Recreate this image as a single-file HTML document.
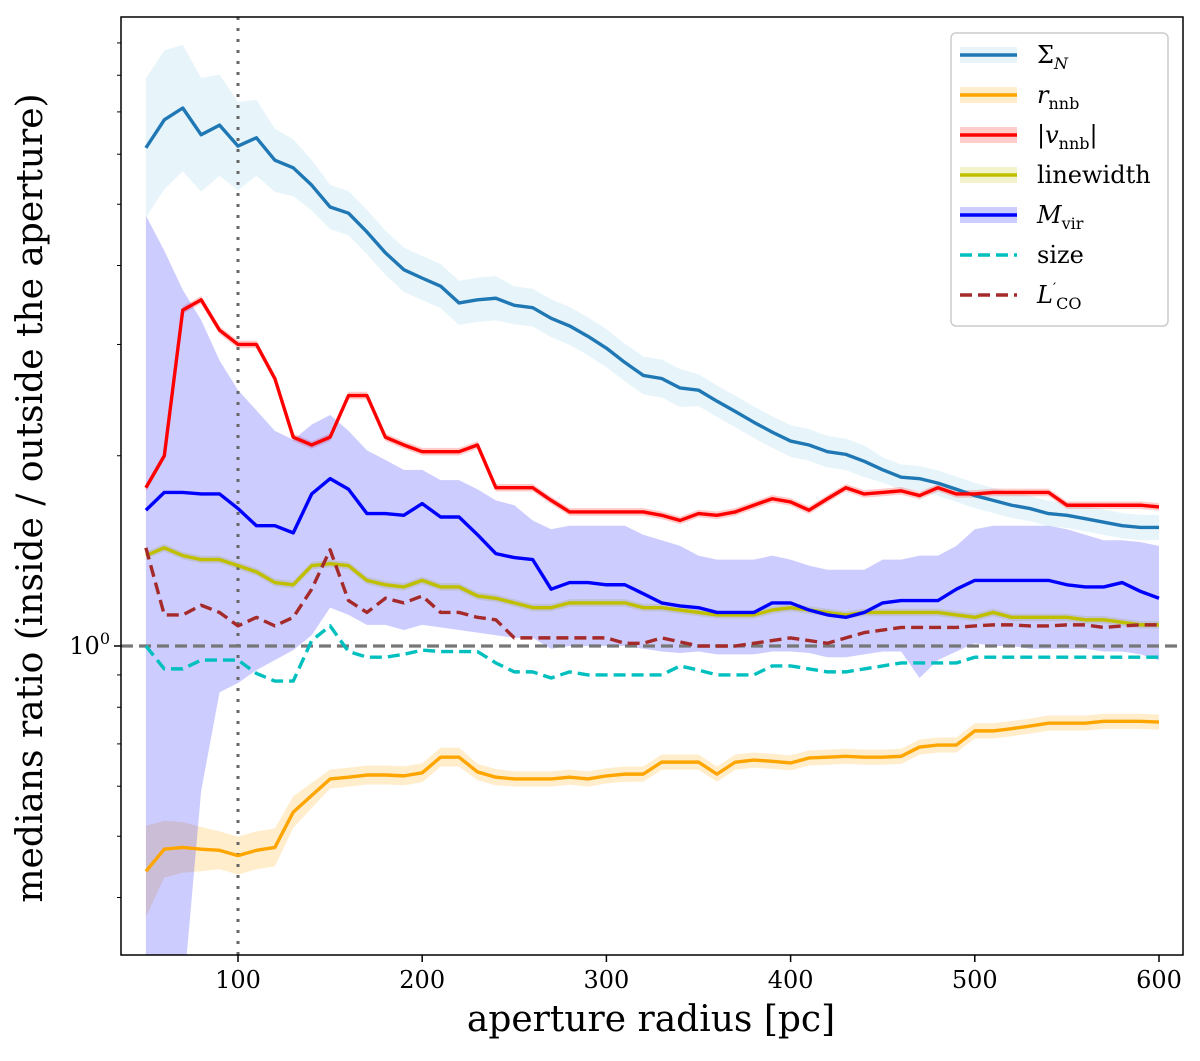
<!DOCTYPE html>
<html><head><meta charset="utf-8"><style>
html,body{margin:0;padding:0;background:#fff;}
svg text{font-family:"DejaVu Serif","Liberation Serif",serif;}
</style></head><body>
<svg id="chart" width="1200" height="1056" viewBox="0 0 1200 1056" xmlns="http://www.w3.org/2000/svg">
<g id="bands"></g>
<g id="lines"></g>
<g id="axes"></g>
<g id="legend"></g>
</svg>
<script>
const radii=[50,60,70,80,90,100,110,120,130,140,150,160,170,180,190,200,210,220,230,240,250,260,270,280,290,300,310,320,330,340,350,360,370,380,390,400,410,420,430,440,450,460,470,480,490,500,510,520,530,540,550,560,570,580,590,600];
const sigmaN=[6.14,6.80,7.10,6.44,6.67,6.18,6.37,5.87,5.71,5.36,4.95,4.84,4.52,4.19,3.94,3.82,3.71,3.49,3.53,3.55,3.46,3.43,3.30,3.21,3.09,2.96,2.81,2.68,2.65,2.56,2.54,2.44,2.35,2.26,2.18,2.11,2.08,2.03,2.01,1.96,1.90,1.85,1.84,1.81,1.77,1.73,1.70,1.67,1.65,1.62,1.61,1.59,1.57,1.55,1.54,1.54];
const sigmaNErr=[0.11,0.11,0.10,0.09,0.08,0.07,0.06,0.05,0.045,0.04,0.035,0.035,0.035,0.035,0.035,0.035,0.035,0.035,0.035,0.035,0.03,0.03,0.03,0.03,0.03,0.03,0.03,0.03,0.03,0.03,0.025,0.025,0.025,0.025,0.025,0.025,0.025,0.025,0.025,0.025,0.02,0.02,0.02,0.02,0.02,0.02,0.02,0.02,0.02,0.02,0.02,0.02,0.02,0.02,0.02,0.02];
const rnnb=[0.44,0.477,0.48,0.477,0.475,0.466,0.475,0.48,0.546,0.58,0.616,0.62,0.625,0.625,0.623,0.63,0.667,0.667,0.632,0.62,0.616,0.616,0.616,0.62,0.616,0.623,0.627,0.627,0.655,0.655,0.655,0.627,0.655,0.66,0.657,0.653,0.665,0.667,0.669,0.667,0.667,0.669,0.692,0.697,0.697,0.734,0.734,0.74,0.747,0.755,0.755,0.755,0.76,0.76,0.76,0.758];
const rnnbErr=[0.072,0.045,0.04,0.035,0.03,0.03,0.03,0.03,0.025,0.02,0.015,0.015,0.015,0.015,0.015,0.015,0.015,0.015,0.013,0.013,0.012,0.012,0.012,0.012,0.012,0.012,0.012,0.012,0.012,0.012,0.012,0.012,0.012,0.012,0.012,0.012,0.012,0.012,0.012,0.012,0.012,0.012,0.012,0.012,0.012,0.012,0.012,0.012,0.012,0.012,0.012,0.012,0.012,0.012,0.012,0.012];
const vnnb=[1.78,2.0,3.40,3.53,3.16,3.0,3.0,2.65,2.14,2.08,2.14,2.49,2.49,2.14,2.08,2.03,2.03,2.03,2.08,1.78,1.78,1.78,1.70,1.63,1.63,1.63,1.63,1.63,1.61,1.58,1.62,1.61,1.63,1.67,1.71,1.69,1.64,1.71,1.78,1.74,1.75,1.76,1.73,1.78,1.74,1.74,1.75,1.75,1.75,1.75,1.67,1.67,1.67,1.67,1.67,1.66];
const linewidth=[1.39,1.43,1.39,1.37,1.37,1.34,1.31,1.26,1.25,1.34,1.35,1.34,1.27,1.25,1.24,1.27,1.24,1.24,1.20,1.19,1.17,1.15,1.15,1.17,1.17,1.17,1.17,1.15,1.15,1.14,1.13,1.12,1.12,1.12,1.14,1.15,1.14,1.13,1.12,1.13,1.13,1.13,1.13,1.13,1.12,1.11,1.13,1.11,1.11,1.11,1.11,1.10,1.10,1.09,1.08,1.08];
const mvir=[1.64,1.75,1.75,1.74,1.74,1.65,1.55,1.55,1.51,1.74,1.84,1.77,1.62,1.62,1.61,1.68,1.60,1.60,1.50,1.40,1.38,1.37,1.23,1.26,1.26,1.25,1.25,1.21,1.17,1.157,1.15,1.13,1.13,1.13,1.17,1.17,1.14,1.12,1.11,1.13,1.17,1.18,1.18,1.18,1.23,1.27,1.27,1.27,1.27,1.27,1.25,1.24,1.24,1.26,1.22,1.19];
const mvirUpper=[4.80,4.22,3.66,3.28,2.83,2.54,2.36,2.19,2.12,2.24,2.32,2.19,2.04,1.97,1.90,1.90,1.83,1.83,1.77,1.70,1.67,1.58,1.53,1.55,1.55,1.55,1.55,1.50,1.47,1.44,1.39,1.37,1.37,1.37,1.39,1.37,1.34,1.32,1.32,1.32,1.37,1.37,1.39,1.39,1.44,1.53,1.55,1.55,1.55,1.55,1.53,1.50,1.47,1.47,1.46,1.44];
const mvirLower=[0.275,0.275,0.275,0.59,0.845,0.874,0.916,0.95,0.985,1.04,1.15,1.12,1.08,1.08,1.06,1.08,1.07,1.06,1.05,1.04,1.03,1.03,0.99,1.0,1.0,1.0,1.0,0.99,0.98,0.975,0.98,0.97,0.97,0.97,0.98,0.98,0.975,0.96,0.96,0.97,0.98,0.98,0.89,0.95,0.98,1.01,1.0,1.0,0.99,0.99,0.99,0.99,0.98,0.98,0.97,0.95];
const size=[1.0,0.92,0.92,0.95,0.95,0.95,0.905,0.88,0.88,1.02,1.076,0.98,0.96,0.96,0.97,0.985,0.98,0.98,0.98,0.94,0.91,0.91,0.89,0.91,0.90,0.90,0.90,0.90,0.90,0.93,0.916,0.90,0.90,0.90,0.93,0.93,0.92,0.91,0.91,0.92,0.93,0.94,0.94,0.94,0.94,0.96,0.96,0.96,0.96,0.96,0.96,0.96,0.96,0.96,0.96,0.96];
const lco=[1.43,1.12,1.12,1.16,1.13,1.076,1.11,1.076,1.11,1.23,1.42,1.18,1.13,1.19,1.17,1.20,1.13,1.13,1.11,1.10,1.03,1.03,1.03,1.03,1.03,1.03,1.01,1.01,1.03,1.015,1.0,1.0,1.0,1.01,1.02,1.03,1.02,1.01,1.03,1.05,1.06,1.07,1.07,1.07,1.07,1.076,1.08,1.08,1.076,1.076,1.08,1.08,1.07,1.076,1.08,1.08];
const smallErr=0.006;
const xTicks=[100,200,300,400,500,600];
const yMinorTicks=[0.4,0.5,0.6,0.7,0.8,0.9,2,3,4,5,6,7,8,9];
const legendLabels=["ΣN","rnnb","|vnnb|","linewidth","Mvir","size","L'CO"];

const NS="http://www.w3.org/2000/svg";
const L=121,R=1183,T=17,B=955;
function X(r){return 238+(r-100)*1.842;}
function Y(v){return 646-Math.log10(v)*632;}
function mk(tag,attrs,parent){const e=document.createElementNS(NS,tag);for(const k in attrs)e.setAttribute(k,attrs[k]);parent.appendChild(e);return e;}
const bands=document.getElementById('bands'),lines=document.getElementById('lines'),axes=document.getElementById('axes'),legend=document.getElementById('legend');
const clip=mk('clipPath',{id:'pc'},document.getElementById('chart'));mk('rect',{x:L,y:T,width:R-L,height:B-T},clip);
bands.setAttribute('clip-path','url(#pc)');lines.setAttribute('clip-path','url(#pc)');
function band(up,lo,fill,op,name){
  let d='';radii.forEach((r,i)=>{d+=(i?'L':'M')+X(r)+','+Y(up[i]);});
  for(let i=radii.length-1;i>=0;i--)d+='L'+X(radii[i])+','+Y(lo[i]);
  const p=mk('path',{d:d+'Z',fill:fill,'fill-opacity':op,stroke:'none'},bands);
  
  
}
function line(vals,color,dash,name){
  const d=radii.map((r,i)=>(i?'L':'M')+X(r)+','+Y(vals[i])).join('');
  const p=mk('path',{d:d,fill:'none',stroke:color,'stroke-width':3.4,'stroke-dasharray':dash||'none','stroke-linejoin':'round'},lines);
  
  
}
function errBand(vals,err,fill,op,name){
  const e=i=>Array.isArray(err)?err[i]:err;
  band(vals.map((v,i)=>v*Math.pow(10,e(i))),vals.map((v,i)=>v/Math.pow(10,e(i))),fill,op,name);
}
errBand(sigmaN,sigmaNErr,'#87ceeb',0.2,'sigma-n-band');
errBand(rnnb,rnnbErr,'#ffa500',0.2,'r-nnb-band');
errBand(vnnb,smallErr,'#ff0000',0.2,'v-nnb-band');
errBand(linewidth,smallErr,'#bfbf00',0.2,'linewidth-band');
band(mvirUpper,mvirLower,'#0000ff',0.2,'m-vir-band');
let g=mk('line',{x1:X(100),x2:X(100),y1:T,y2:B,stroke:'#666','stroke-width':3,'stroke-dasharray':'3,8'},lines);

g=mk('line',{x1:L,x2:R,y1:Y(1),y2:Y(1),stroke:'#777','stroke-width':3.2,'stroke-dasharray':'12,6'},lines);

line(sigmaN,'#1f77b4',null,'sigma-n-line');
line(rnnb,'#ffa500',null,'r-nnb-line');
line(vnnb,'#ff0000',null,'v-nnb-line');
line(linewidth,'#bfbf00',null,'linewidth-line');
line(mvir,'#0000ff',null,'m-vir-line');
line(size,'#00bfbf','12,6','size-line');
line(lco,'#a52a2a','12,6','l-co-line');
g=mk('rect',{x:L,y:T,width:R-L,height:B-T,fill:'none',stroke:'#000','stroke-width':1.5},axes);

xTicks.forEach(t=>{
  const tk=mk('line',{x1:X(t),x2:X(t),y1:B,y2:B+7,stroke:'#000','stroke-width':1.5},axes);
  
  const tx=mk('text',{x:X(t),y:B+33,'font-size':24,'text-anchor':'middle'},axes);tx.textContent=t;
  
});
yMinorTicks.forEach(t=>{
  const tk=mk('line',{x1:L-4,x2:L,y1:Y(t),y2:Y(t),stroke:'#000','stroke-width':1},axes);
  
});
g=mk('line',{x1:L-7,x2:L,y1:Y(1),y2:Y(1),stroke:'#000','stroke-width':1.5},axes);

g=mk('text',{x:L-11,y:Y(1)+8,'font-size':24,'text-anchor':'end'},axes);
g.innerHTML='10<tspan dy="-10" font-size="16">0</tspan>';

g=mk('text',{x:651,y:1031,'font-size':36,'text-anchor':'middle'},axes);g.textContent='aperture radius [pc]';

g=mk('text',{x:0,y:0,'font-size':36,'text-anchor':'middle',transform:'translate(42,498) rotate(-90)'},axes);g.textContent='medians ratio (inside / outside the aperture)';

g=mk('rect',{x:951,y:33,width:217,height:293,rx:5,fill:'#fff','fill-opacity':0.85,stroke:'#ccc','stroke-width':1.5},legend);

const lgColors=['#1f77b4','#ffa500','#ff0000','#bfbf00','#0000ff','#00bfbf','#a52a2a'];
const lgFill=['#87ceeb','#ffa500','#ff0000','#bfbf00','#0000ff',null,null];
const lgHTML=['Σ<tspan font-style="italic" font-size="16" dy="6">N</tspan>',
 '<tspan font-style="italic">r</tspan><tspan font-size="16" dy="6">nnb</tspan>',
 '|<tspan font-style="italic">v</tspan><tspan font-size="16" dy="6">nnb</tspan><tspan dy="-6">|</tspan>',
 'linewidth',
 '<tspan font-style="italic">M</tspan><tspan font-size="16" dy="6">vir</tspan>',
 'size',
 '<tspan font-style="italic">L</tspan><tspan font-size="14" dy="-10">′</tspan><tspan font-size="16" dy="16">CO</tspan>'];
legendLabels.forEach((lab,i)=>{
  const y=55+i*40;
  const eg=mk('g',{},legend);
  
  
  if(lgFill[i])mk('rect',{x:960,y:y-8,width:57,height:16,fill:lgFill[i],'fill-opacity':0.2},eg);
  mk('line',{x1:960,x2:1017,y1:y,y2:y,stroke:lgColors[i],'stroke-width':3.4,'stroke-dasharray':i>=5?'12,6':'none'},eg);
  const t=mk('text',{x:1037,y:y+8,'font-size':24},eg);t.innerHTML=lgHTML[i];
});
</script>
</body></html>
